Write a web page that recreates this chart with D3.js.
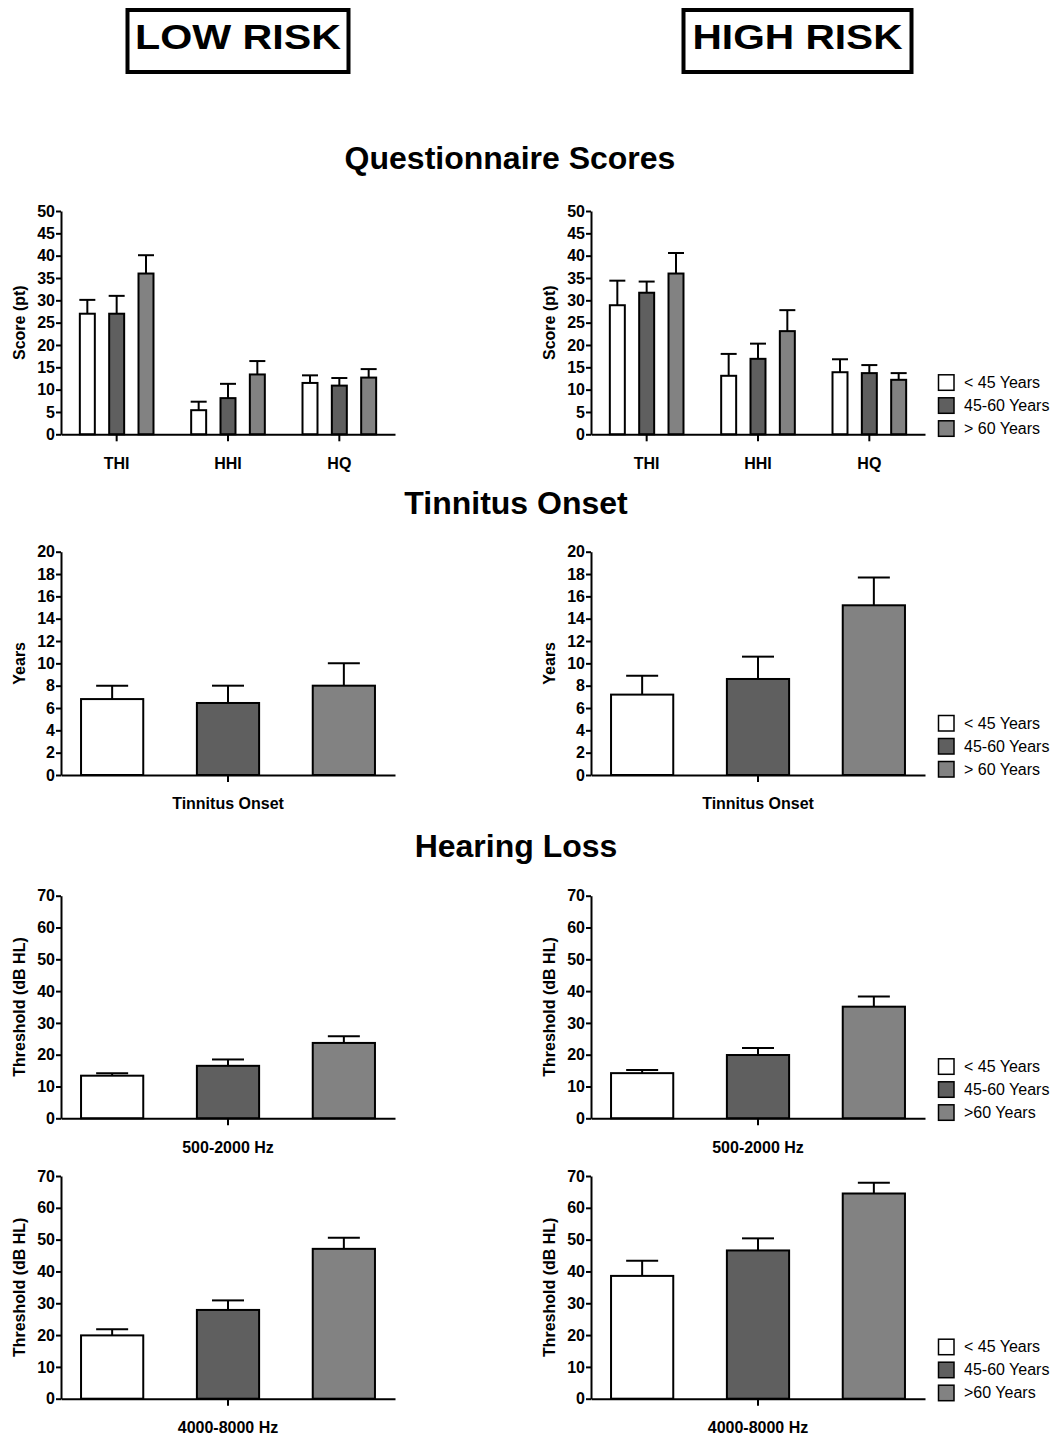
<!DOCTYPE html>
<html>
<head>
<meta charset="utf-8">
<script src="https://cdn.jsdelivr.net/npm/d3@7"></script>
<style>
  body{margin:0;background:#fff;}
  svg{display:block;font-family:"Liberation Sans",Arial,Helvetica,sans-serif;}
</style>
</head>
<body>
<svg id="fig" width="1054" height="1436"></svg>
<script>
// ---- data ----
const SERIES    = ["< 45 Years", "45-60 Years", "> 60 Years"];
const SERIES_HL = ["< 45 Years", "45-60 Years", ">60 Years"];
const FILLS     = ["#ffffff", "#5f5f5f", "#828282"];

const Q_CATS = ["THI", "HHI", "HQ"];
const Q_LOW      = [[27.0, 27.0, 36.0], [5.4, 8.1, 13.4], [11.5, 10.9, 12.7]];
const Q_LOW_ERR  = [[3.1, 4.0, 4.1],    [1.9, 3.2, 3.0],  [1.7, 1.7, 1.9]];
const Q_HIGH     = [[28.9, 31.7, 36.0], [13.1, 16.9, 23.1], [13.9, 13.7, 12.2]];
const Q_HIGH_ERR = [[5.5, 2.5, 4.6],    [4.9, 3.4, 4.7],    [2.9, 1.8, 1.5]];

const T_CATS = ["Tinnitus Onset"];
const T_LOW      = [[6.8, 6.45, 8.0]];
const T_LOW_ERR  = [[1.2, 1.55, 2.0]];
const T_HIGH     = [[7.2, 8.6, 15.2]];
const T_HIGH_ERR = [[1.7, 2.0, 2.5]];

const H1_CATS = ["500-2000 Hz"];
const H1_LOW      = [[13.4, 16.5, 23.7]];
const H1_LOW_ERR  = [[0.8, 2.0, 2.1]];
const H1_HIGH     = [[14.2, 19.9, 35.1]];
const H1_HIGH_ERR = [[1.0, 2.2, 3.2]];

const H2_CATS = ["4000-8000 Hz"];
const H2_LOW      = [[19.9, 27.9, 47.1]];
const H2_LOW_ERR  = [[1.9, 3.0, 3.5]];
const H2_HIGH     = [[38.6, 46.6, 64.5]];
const H2_HIGH_ERR = [[4.8, 3.8, 3.4]];

const SECTIONS = ["Questionnaire Scores", "Tinnitus Onset", "Hearing Loss"];
const GROUPS   = ["LOW RISK", "HIGH RISK"];

// ---- layout ----
const svg = d3.select("#fig");
const AXW = 334;
const LEFTS = [61, 591];
const FONT = "Liberation Sans, Arial, sans-serif";

// boxed group headers
const boxes = [
  {label: GROUPS[0], x: 127.5, w: 221, tl: 206},
  {label: GROUPS[1], x: 683.5, w: 228, tl: 210}
];
boxes.forEach(b => {
  svg.append("rect").attr("x", b.x).attr("y", 10).attr("width", b.w).attr("height", 62)
    .attr("fill", "none").attr("stroke", "#000").attr("stroke-width", 4);
  svg.append("text").attr("x", b.x + b.w/2).attr("y", 49)
    .attr("text-anchor", "middle").attr("font-size", 35).attr("font-weight", "bold")
    .attr("textLength", b.tl).attr("lengthAdjust", "spacingAndGlyphs")
    .text(b.label);
});

// section titles
[[SECTIONS[0], 510, 169], [SECTIONS[1], 516, 514], [SECTIONS[2], 516, 857]].forEach(([t, x, y]) => {
  svg.append("text").attr("x", x).attr("y", y).attr("text-anchor", "middle")
    .attr("font-size", 32).attr("font-weight", "bold").text(t);
});

function panel(o){
  const g = svg.append("g");
  const y = d3.scaleLinear().domain([0, o.max]).range([o.y0, o.yTop]);
  const x0 = d3.scaleBand().domain(o.cats).range([o.left, o.left + AXW]).padding(0);
  const x1 = d3.scaleBand().domain(o.series).range([-o.grpW/2, o.grpW/2])
    .paddingInner(o.pi).paddingOuter(o.po);

  const recs = [];
  o.cats.forEach((c, i) => o.series.forEach((s, j) => {
    recs.push({c, s, j, v: o.vals[i][j], e: o.errs[i][j]});
  }));
  const cx = d => x0(d.c) + x0.bandwidth()/2 + x1(d.s) + x1.bandwidth()/2;

  // error bars (upper only)
  g.selectAll("line.err").data(recs).enter().append("line")
    .attr("x1", cx).attr("x2", cx)
    .attr("y1", d => y(d.v)).attr("y2", d => y(d.v + d.e))
    .attr("stroke", "#000").attr("stroke-width", 2);
  g.selectAll("line.cap").data(recs).enter().append("line")
    .attr("x1", d => cx(d) - o.cap/2).attr("x2", d => cx(d) + o.cap/2)
    .attr("y1", d => y(d.v + d.e)).attr("y2", d => y(d.v + d.e))
    .attr("stroke", "#000").attr("stroke-width", 2);

  g.selectAll("rect.bar").data(recs).enter().append("rect")
    .attr("x", d => cx(d) - x1.bandwidth()/2)
    .attr("width", x1.bandwidth())
    .attr("y", d => y(d.v)).attr("height", d => o.y0 - y(d.v))
    .attr("fill", d => FILLS[d.j]).attr("stroke", "#000").attr("stroke-width", 2);

  // y axis
  const ya = g.append("g").attr("transform", `translate(${o.left},0)`)
    .call(d3.axisLeft(y).tickValues(d3.range(0, o.max + o.step/2, o.step))
      .tickSize(5).tickSizeOuter(0).tickPadding(1));
  ya.selectAll("path,line").attr("stroke", "#000").attr("stroke-width", 2);
  ya.selectAll("text").attr("font-size", 16).attr("font-weight", "bold")
    .attr("font-family", FONT).attr("fill", "#000");

  // x axis
  const xa = g.append("g").attr("transform", `translate(0,${o.y0})`)
    .call(d3.axisBottom(x0).tickSizeInner(7).tickSizeOuter(0).tickPadding(16));
  xa.selectAll("path,line").attr("stroke", "#000").attr("stroke-width", 2);
  xa.selectAll("text").attr("font-size", 16).attr("font-weight", "bold")
    .attr("font-family", FONT).attr("fill", "#000");

  // y label
  g.append("text").attr("transform", "rotate(-90)")
    .attr("x", -(o.y0 + o.yTop)/2).attr("y", o.left - 36)
    .attr("text-anchor", "middle").attr("font-size", 16).attr("font-weight", "bold")
    .text(o.ylabel);

  if (o.legend){
    const lg = g.append("g");
    o.series.forEach((s, j) => {
      const ry = o.y0 - 6 - 23 * (o.series.length - 1 - j);
      lg.append("rect").attr("x", 938.5).attr("y", ry - 7.5).attr("width", 15.5).attr("height", 15.5)
        .attr("fill", FILLS[j]).attr("stroke", "#000").attr("stroke-width", 1.5);
      lg.append("text").attr("x", 964).attr("y", ry).attr("dy", "0.35em")
        .attr("font-size", 16).text(s);
    });
  }
}

const QCFG = {cats: Q_CATS, max: 50, step: 5, yTop: 211, y0: 434.3, grpW: 88, pi: 0.489, po: 0.2445, cap: 16, ylabel: "Score (pt)", series: SERIES};
const TCFG = {cats: T_CATS, max: 20, step: 2, yTop: 551.7, y0: 775, grpW: 334, pi: 0.463, po: 0.173, cap: 32, ylabel: "Years", series: SERIES};
const H1CFG = {cats: H1_CATS, max: 70, step: 10, yTop: 895.7, y0: 1118.3, grpW: 334, pi: 0.463, po: 0.173, cap: 32, ylabel: "Threshold (dB HL)", series: SERIES_HL};
const H2CFG = {cats: H2_CATS, max: 70, step: 10, yTop: 1176, y0: 1398.7, grpW: 334, pi: 0.463, po: 0.173, cap: 32, ylabel: "Threshold (dB HL)", series: SERIES_HL};

panel(Object.assign({}, QCFG, {left: LEFTS[0], vals: Q_LOW, errs: Q_LOW_ERR}));
panel(Object.assign({}, QCFG, {left: LEFTS[1], vals: Q_HIGH, errs: Q_HIGH_ERR, legend: true}));
panel(Object.assign({}, TCFG, {left: LEFTS[0], vals: T_LOW, errs: T_LOW_ERR}));
panel(Object.assign({}, TCFG, {left: LEFTS[1], vals: T_HIGH, errs: T_HIGH_ERR, legend: true}));
panel(Object.assign({}, H1CFG, {left: LEFTS[0], vals: H1_LOW, errs: H1_LOW_ERR}));
panel(Object.assign({}, H1CFG, {left: LEFTS[1], vals: H1_HIGH, errs: H1_HIGH_ERR, legend: true}));
panel(Object.assign({}, H2CFG, {left: LEFTS[0], vals: H2_LOW, errs: H2_LOW_ERR}));
panel(Object.assign({}, H2CFG, {left: LEFTS[1], vals: H2_HIGH, errs: H2_HIGH_ERR, legend: true}));
</script>
</body>
</html>
